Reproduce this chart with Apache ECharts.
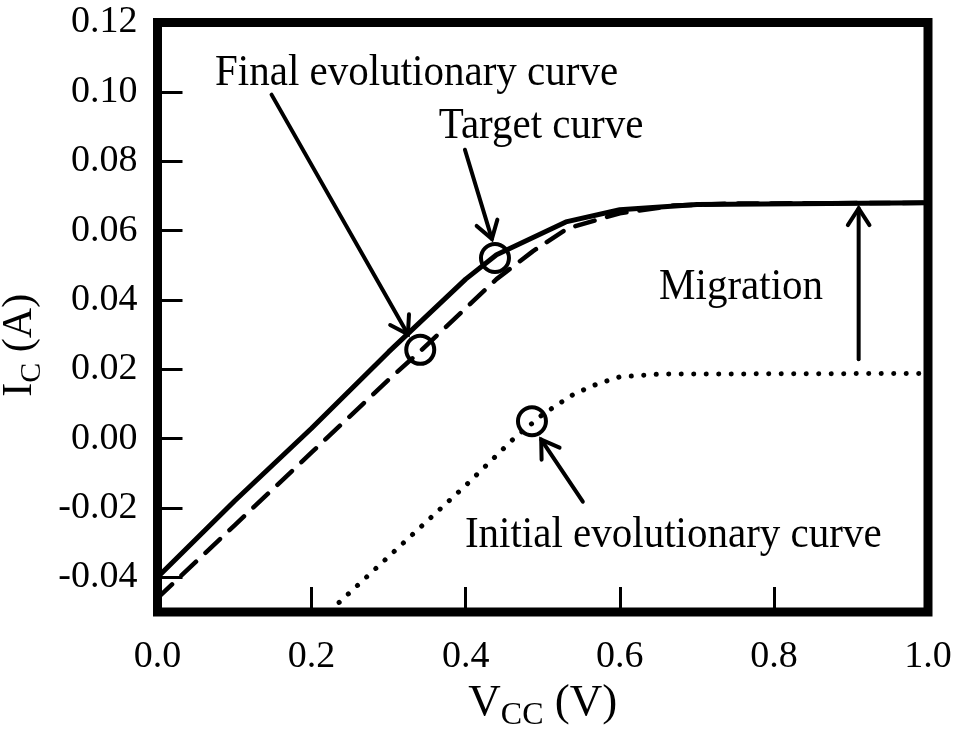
<!DOCTYPE html>
<html>
<head>
<meta charset="utf-8">
<script src="https://cdn.jsdelivr.net/npm/echarts@6/dist/echarts.min.js"></script>
<style>
  html, body { margin: 0; padding: 0; background: #fff; }
  #chart { width: 957px; height: 731px; }
</style>
</head>
<body>
<div id="chart"></div>
<script>
// Collector current vs. supply voltage: target, final and initial curves
const xTicks = [0.0, 0.2, 0.4, 0.6, 0.8, 1.0];
const yTicks = [-0.04, -0.02, 0.00, 0.02, 0.04, 0.06, 0.08, 0.10, 0.12];

const targetV = [0.0, 0.1, 0.2, 0.3, 0.4, 0.44, 0.53, 0.6, 0.7, 1.0];
const targetI = [-0.040, -0.018, 0.003, 0.025, 0.046, 0.053, 0.0625, 0.066, 0.0675, 0.068];

const finalV = [0.0, 0.1, 0.2, 0.3, 0.34, 0.4, 0.44, 0.487, 0.532, 0.6, 0.67, 0.75, 1.0];
const finalI = [-0.046, -0.025, -0.004, 0.017, 0.025, 0.0376, 0.046, 0.054, 0.0606, 0.065, 0.0672, 0.0678, 0.068];

const initialV = [0.2, 0.3, 0.4, 0.46, 0.5, 0.54, 0.57, 0.6, 0.65, 1.0];
const initialI = [-0.0546, -0.034, -0.0135, -0.0005, 0.007, 0.0128, 0.0157, 0.0178, 0.0186, 0.0188];

// highlighted operating points
const markV = [0.341, 0.438, 0.486];
const markI = [0.0256, 0.0521, 0.005];

// annotation arrows: tail (v, i) -> head (v, i)
const arrowFrom = [[0.148, 0.0992], [0.399, 0.0833], [0.91, 0.0229], [0.552, -0.0182]];
const arrowTo   = [[0.325, 0.0301], [0.434, 0.0576], [0.91, 0.0664], [0.498, -0.0003]];

// annotation texts, anchored at their left edge
const noteText = ['Final evolutionary curve', 'Target curve', 'Migration', 'Initial evolutionary curve'];
const noteV = [0.0747, 0.365, 0.651, 0.399];
const noteI = [0.1055, 0.0901, 0.0438, -0.0278];

const pairs = (xs, ys) => xs.map((x, k) => [x, ys[k]]);
const FONT = '"Liberation Serif", "Times New Roman", serif';

const chart = echarts.init(document.getElementById('chart'), null, { renderer: 'canvas' });

const richFor = (big, small, lh) => ({
  a: { fontFamily: FONT, fontSize: big, color: '#000', lineHeight: lh, verticalAlign: 'middle' },
  s: { fontFamily: FONT, fontSize: small, color: '#000', lineHeight: lh, verticalAlign: 'bottom' }
});

const option = {
  backgroundColor: '#fff',
  animation: false,
  grid: {
    left: 157.5, right: 29, top: 22.5, bottom: 119,
    outerBoundsMode: 'none', containLabel: false,
    show: true, borderColor: '#000', borderWidth: 9, backgroundColor: 'transparent'
  },
  xAxis: {
    type: 'value', min: xTicks[0], max: xTicks[xTicks.length - 1], interval: 0.2,
    axisLine: { show: false, onZero: false },
    axisTick: { show: true, inside: true, length: 25, lineStyle: { color: '#000', width: 3 } },
    splitLine: { show: false },
    axisLabel: {
      color: '#000', fontFamily: FONT, fontSize: 38, margin: 26,
      formatter: v => v.toFixed(1)
    },
    name: '{a|V}{s|CC}{a| (V)}',
    nameLocation: 'middle', nameGap: 58,
    nameTextStyle: { rich: richFor(45, 32, 56) }
  },
  yAxis: {
    type: 'value', min: -0.05, max: yTicks[yTicks.length - 1],
    splitNumber: 8, minInterval: 0.02, maxInterval: 0.02,
    axisLine: { show: false, onZero: false },
    axisTick: { show: true, inside: true, length: 25, lineStyle: { color: '#000', width: 3 } },
    splitLine: { show: false },
    axisLabel: {
      color: '#000', fontFamily: FONT, fontSize: 38, margin: 20,
      showMinLabel: false,
      formatter: v => (yTicks.some(t => Math.abs(t - v) < 1e-9) ? v.toFixed(2) : '')
    },
    name: '{a|I}{s|C}{a| (A)}',
    nameLocation: 'middle', nameGap: 110, nameRotate: 90,
    nameTextStyle: { padding: [0, 56, 0, 0], rich: richFor(42, 30, 54) }
  },
  series: [
    {
      name: 'Target curve', type: 'line', data: pairs(targetV, targetI),
      showSymbol: false, symbol: 'none', clip: true,
      lineStyle: { color: '#000', width: 5, cap: 'round', join: 'round' }
    },
    {
      name: 'Final evolutionary curve', type: 'line', data: pairs(finalV, finalI),
      showSymbol: false, symbol: 'none', clip: true,
      lineStyle: { color: '#000', width: 4.5, type: [20, 13], cap: 'round', join: 'round' }
    },
    {
      name: 'Initial evolutionary curve', type: 'line', data: pairs(initialV, initialI),
      showSymbol: false, symbol: 'none', clip: true,
      lineStyle: { color: '#000', width: 5, type: [0.1, 12.4], cap: 'round', join: 'round' }
    },
    {
      name: 'points', type: 'scatter', data: pairs(markV, markI),
      symbol: 'circle', symbolSize: 28,
      itemStyle: { color: 'rgba(0,0,0,0)', borderColor: '#000', borderWidth: 4, opacity: 1 },
      z: 5
    },
    {
      name: 'arrows', type: 'custom', z: 6,
      data: arrowFrom.map((f, k) => [f[0], f[1], arrowTo[k][0], arrowTo[k][1]]),
      renderItem: (params, api) => {
        const p0 = api.coord([api.value(0), api.value(1)]);
        const p1 = api.coord([api.value(2), api.value(3)]);
        const ang = Math.atan2(p1[1] - p0[1], p1[0] - p0[0]);
        const hl = 20, ha = Math.PI / 5.5;
        const h1 = [p1[0] - hl * Math.cos(ang - ha), p1[1] - hl * Math.sin(ang - ha)];
        const h2 = [p1[0] - hl * Math.cos(ang + ha), p1[1] - hl * Math.sin(ang + ha)];
        const st = { stroke: '#000', lineWidth: 4, fill: null, lineCap: 'round', lineJoin: 'miter' };
        return {
          type: 'group',
          children: [
            { type: 'line', shape: { x1: p0[0], y1: p0[1], x2: p1[0], y2: p1[1] }, style: st },
            { type: 'polyline', shape: { points: [h1, p1, h2] }, style: st }
          ]
        };
      }
    },
    {
      name: 'notes', type: 'custom', z: 7,
      data: noteText.map((t, k) => [noteV[k], noteI[k], k]),
      renderItem: (params, api) => {
        const p = api.coord([api.value(0), api.value(1)]);
        return {
          type: 'text',
          x: p[0], y: p[1], scaleY: 1.1,
          style: {
            text: noteText[api.value(2)],
            fontFamily: FONT, fontSize: 41, fill: '#000',
            align: 'left', verticalAlign: 'middle'
          }
        };
      }
    }
  ]
};

chart.setOption(option);
</script>
</body>
</html>
